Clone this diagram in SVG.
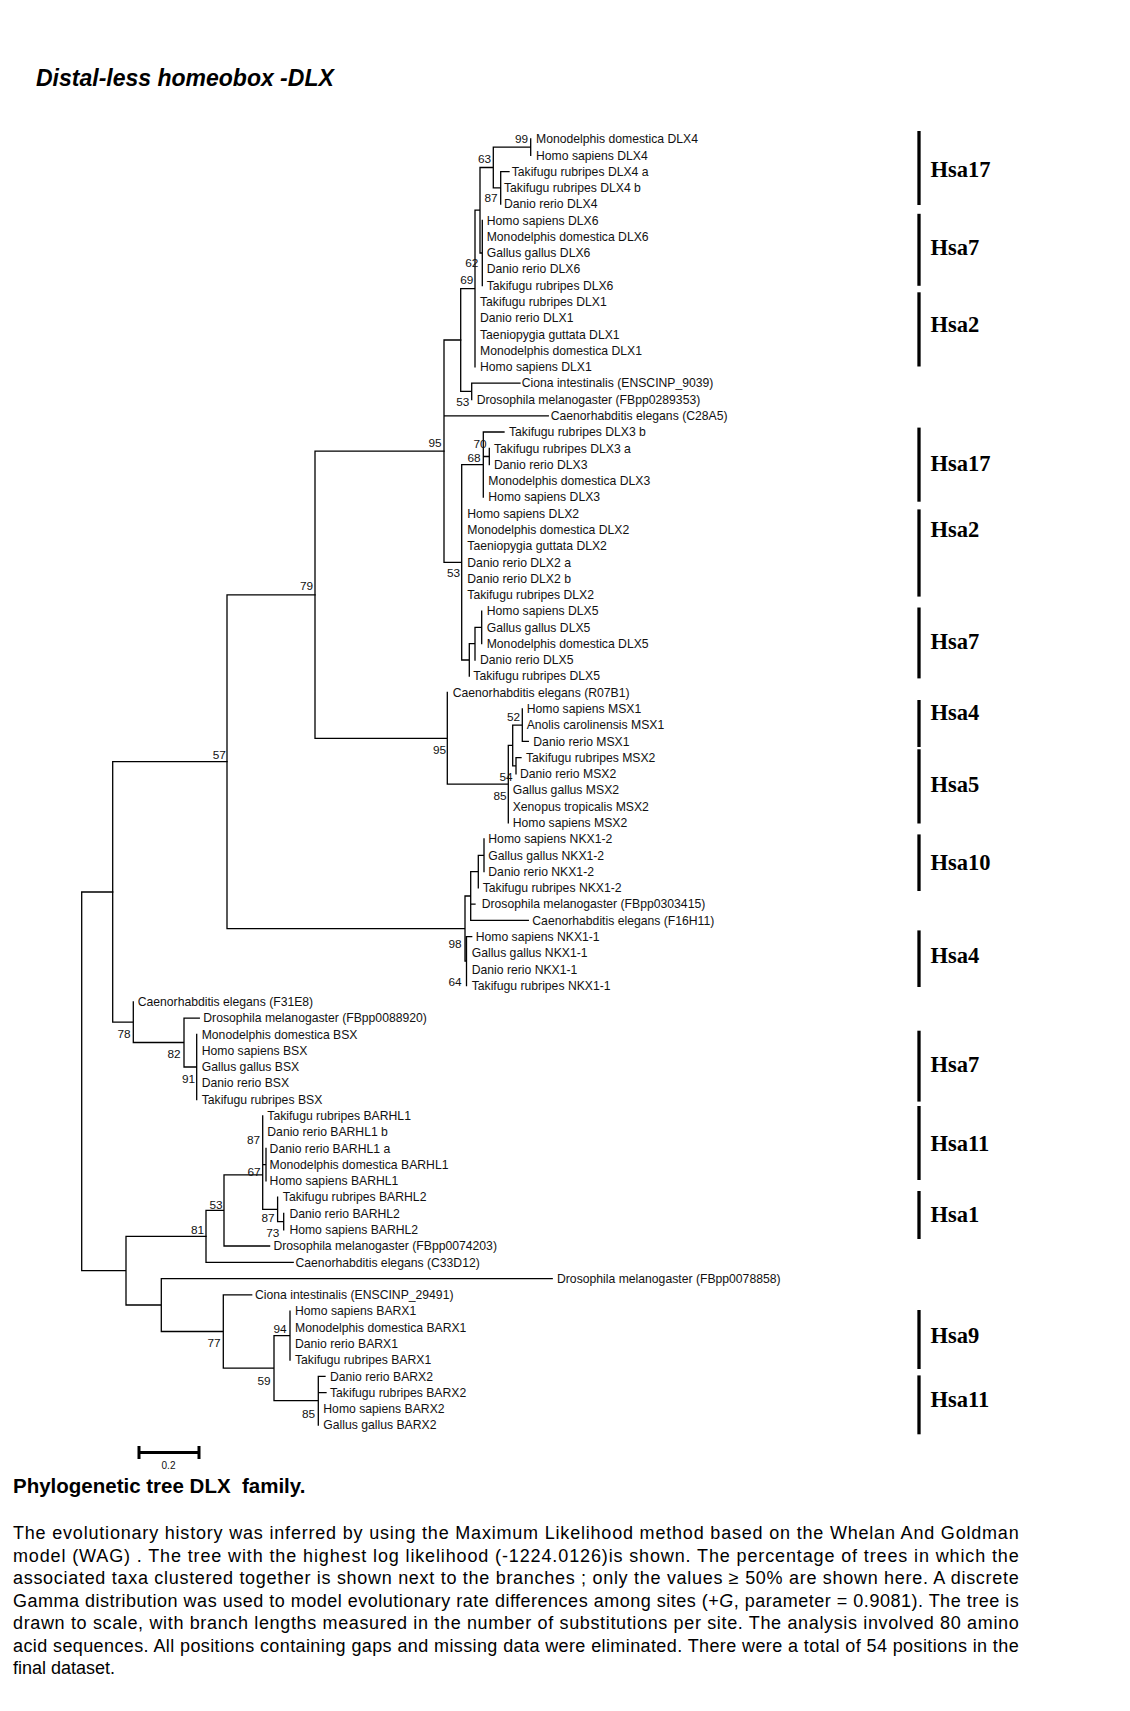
<svg xmlns="http://www.w3.org/2000/svg" width="1130" height="1711" viewBox="0 0 1130 1711">
<style>
text{font-family:"Liberation Sans",Arial,sans-serif;fill:#111}
.t{font-size:12.2px}
.b{font-size:11.8px;text-anchor:end}
.hsa{font-family:"Liberation Serif","Times New Roman",serif;font-weight:bold;font-size:22.5px;fill:#000}
.bar{stroke:#000;stroke-width:3.3}
.br{stroke:#000;stroke-width:1.3;fill:none;stroke-linecap:square}
.cap{font-size:18px;fill:#000}
</style>
<rect width="1130" height="1711" fill="#fff"/>
<text x="36" y="86" style="font-size:23px;font-weight:bold;font-style:italic;fill:#000">Distal-less homeobox -DLX</text>

<g id="connectors" class="br">
<path d="M530.7 139V155.3M500.7 171.6V204.1M493.3 147.1V187.8M482.3 220.4V285.5M480 167.5V253M475 210.2V366.9M471.7 383.2V399.5M460.7 288.6V391.3M493.3 147.1H530.7M493.3 187.8H500.7M500.7 171.6H509M480 167.5H493.3M480 253H482.3M475 210.2H480M471.7 383.2H520M460.7 288.6H475M460.7 391.3H471.7"/>
<path d="M489.3 448.3V464.6M483.3 432V497.2M481.7 611.1V643.7M475 627.4V660M469.3 643.7V676.2M461.7 464.6V660M444 340V562.3M483.3 456.5H489.3M483.3 432H504M475 627.4H481.7M469.3 643.7H475M461.7 464.6H483.3M461.7 660H469.3M444 340H460.7M444 415.8H548.3M444 562.3H461.7"/>
<path d="M522.3 708.8V741.4M516 757.6V773.9M512.7 725.1V765.8M508.3 745.4V822.8M447.3 692.5V784.1M315 451.2V738.3M522.3 741.4H528.3M516 757.6H521M512.7 725.1H522.3M512.7 765.8H516M508.3 745.4H512.7M447.3 784.1H508.3M315 451.2H444M315 738.3H447.3"/>
<path d="M484 839V871.6M478.3 855.3V887.9M470.7 871.6V920.4M466.5 936.7V985.6M465 896V961.1M227 594.8V928.6M478.3 855.3H484M470.7 871.6H478.3M470.7 904.2H475M470.7 920.4H528.3M466.5 936.7H471.7M465 896H470.7M465 961.1H466.5M227 594.8H315M227 928.6H465"/>
<path d="M196.7 1034.4V1099.5M184 1018.1V1067M133.3 1001.8V1042.5M112.7 761.7V1022.2M184 1018.1H199.3M184 1067H196.7M133.3 1042.5H184M112.7 761.7H227M112.7 1022.2H133.3"/>
<path d="M266 1148.4V1180.9M262.7 1115.8V1209.4M283.7 1213.5V1229.8M277.6 1197.2V1221.6M224 1174.8V1246M206 1210.4V1262.3M262.7 1164.6H266M277.6 1221.6H283.7M262.7 1209.4H277.6M224 1174.8H262.7M224 1246H269.6M206 1210.4H224M206 1262.3H293.2"/>
<path d="M290 1311.2V1360M318.3 1376.3V1425.1M274 1335.6V1400.7M223.3 1294.9V1368.2M161.3 1278.6V1331.5M126 1236.4V1305M81.7 892V1270.7M318.3 1376.3H325M318.3 1392.6H326M274 1335.6H290M274 1400.7H318.3M223.3 1294.9H251.7M223.3 1368.2H274M161.3 1278.6H552.2M161.3 1331.5H223.3M126 1236.4H206M126 1305H161.3M81.7 892H112.7M81.7 1270.7H126"/>
</g>

<g id="clade-dlx4-6-1" class="t">
<text x="536" y="143.2">Monodelphis domestica DLX4</text>
<text x="536" y="159.5">Homo sapiens DLX4</text>
<text x="511.7" y="175.8">Takifugu rubripes DLX4 a</text>
<text x="504" y="192">Takifugu rubripes DLX4 b</text>
<text x="504" y="208.3">Danio rerio DLX4</text>
<text x="486.7" y="224.6">Homo sapiens DLX6</text>
<text x="486.7" y="240.9">Monodelphis domestica DLX6</text>
<text x="486.7" y="257.2">Gallus gallus DLX6</text>
<text x="486.7" y="273.4">Danio rerio DLX6</text>
<text x="486.7" y="289.7">Takifugu rubripes DLX6</text>
<text x="480" y="306">Takifugu rubripes DLX1</text>
<text x="480" y="322.3">Danio rerio DLX1</text>
<text x="480" y="338.6">Taeniopygia guttata DLX1</text>
<text x="480" y="354.8">Monodelphis domestica DLX1</text>
<text x="480" y="371.1">Homo sapiens DLX1</text>
<text x="521.7" y="387.4">Ciona intestinalis (ENSCINP_9039)</text>
<text x="476.7" y="403.7">Drosophila melanogaster (FBpp0289353)</text>
<text x="550.7" y="420">Caenorhabditis elegans (C28A5)</text>
</g>
<g id="clade-dlx3-2-5" class="t">
<text x="509" y="436.2">Takifugu rubripes DLX3 b</text>
<text x="494" y="452.5">Takifugu rubripes DLX3 a</text>
<text x="494" y="468.8">Danio rerio DLX3</text>
<text x="488.3" y="485.1">Monodelphis domestica DLX3</text>
<text x="488.3" y="501.4">Homo sapiens DLX3</text>
<text x="467.3" y="517.6">Homo sapiens DLX2</text>
<text x="467.3" y="533.9">Monodelphis domestica DLX2</text>
<text x="467.3" y="550.2">Taeniopygia guttata DLX2</text>
<text x="467.3" y="566.5">Danio rerio DLX2 a</text>
<text x="467.3" y="582.8">Danio rerio DLX2 b</text>
<text x="467.3" y="599">Takifugu rubripes DLX2</text>
<text x="486.7" y="615.3">Homo sapiens DLX5</text>
<text x="486.7" y="631.6">Gallus gallus DLX5</text>
<text x="486.7" y="647.9">Monodelphis domestica DLX5</text>
<text x="480" y="664.2">Danio rerio DLX5</text>
<text x="473.3" y="680.4">Takifugu rubripes DLX5</text>
</g>
<g id="clade-msx" class="t">
<text x="452.7" y="696.7">Caenorhabditis elegans (R07B1)</text>
<text x="526.7" y="713">Homo sapiens MSX1</text>
<text x="526.7" y="729.3">Anolis carolinensis MSX1</text>
<text x="533.3" y="745.6">Danio rerio MSX1</text>
<text x="526" y="761.8">Takifugu rubripes MSX2</text>
<text x="520" y="778.1">Danio rerio MSX2</text>
<text x="512.7" y="794.4">Gallus gallus MSX2</text>
<text x="512.7" y="810.7">Xenopus tropicalis MSX2</text>
<text x="512.7" y="827">Homo sapiens MSX2</text>
</g>
<g id="clade-nkx" class="t">
<text x="488.3" y="843.2">Homo sapiens NKX1-2</text>
<text x="488.3" y="859.5">Gallus gallus NKX1-2</text>
<text x="488.3" y="875.8">Danio rerio NKX1-2</text>
<text x="482.7" y="892.1">Takifugu rubripes NKX1-2</text>
<text x="481.7" y="908.4">Drosophila melanogaster (FBpp0303415)</text>
<text x="532.3" y="924.6">Caenorhabditis elegans (F16H11)</text>
<text x="475.7" y="940.9">Homo sapiens NKX1-1</text>
<text x="471.7" y="957.2">Gallus gallus NKX1-1</text>
<text x="471.7" y="973.5">Danio rerio NKX1-1</text>
<text x="471.7" y="989.8">Takifugu rubripes NKX1-1</text>
</g>
<g id="clade-bsx" class="t">
<text x="137.7" y="1006">Caenorhabditis elegans (F31E8)</text>
<text x="203.3" y="1022.3">Drosophila melanogaster (FBpp0088920)</text>
<text x="201.7" y="1038.6">Monodelphis domestica BSX</text>
<text x="201.7" y="1054.9">Homo sapiens BSX</text>
<text x="201.7" y="1071.2">Gallus gallus BSX</text>
<text x="201.7" y="1087.4">Danio rerio BSX</text>
<text x="201.7" y="1103.7">Takifugu rubripes BSX</text>
</g>
<g id="clade-barhl" class="t">
<text x="267.3" y="1120">Takifugu rubripes BARHL1</text>
<text x="267.3" y="1136.3">Danio rerio BARHL1 b</text>
<text x="269.6" y="1152.6">Danio rerio BARHL1 a</text>
<text x="269.6" y="1168.8">Monodelphis domestica BARHL1</text>
<text x="269.6" y="1185.1">Homo sapiens BARHL1</text>
<text x="282.8" y="1201.4">Takifugu rubripes BARHL2</text>
<text x="289.4" y="1217.7">Danio rerio BARHL2</text>
<text x="289.4" y="1234">Homo sapiens BARHL2</text>
<text x="273.4" y="1250.2">Drosophila melanogaster (FBpp0074203)</text>
<text x="295.5" y="1266.5">Caenorhabditis elegans (C33D12)</text>
</g>
<g id="clade-barx" class="t">
<text x="557" y="1282.8">Drosophila melanogaster (FBpp0078858)</text>
<text x="255" y="1299.1">Ciona intestinalis (ENSCINP_29491)</text>
<text x="295" y="1315.4">Homo sapiens BARX1</text>
<text x="295" y="1331.6">Monodelphis domestica BARX1</text>
<text x="295" y="1347.9">Danio rerio BARX1</text>
<text x="295" y="1364.2">Takifugu rubripes BARX1</text>
<text x="330" y="1380.5">Danio rerio BARX2</text>
<text x="330" y="1396.8">Takifugu rubripes BARX2</text>
<text x="323.3" y="1413">Homo sapiens BARX2</text>
<text x="323.3" y="1429.3">Gallus gallus BARX2</text>
</g>

<g id="bootstrap" class="b">
<text x="528" y="143">99</text>
<text x="491" y="163">63</text>
<text x="497.7" y="202.3">87</text>
<text x="478.3" y="267.3">62</text>
<text x="473.3" y="284">69</text>
<text x="469.3" y="405.7">53</text>
<text x="441.7" y="447.3">95</text>
<text x="486.7" y="448">70</text>
<text x="480.7" y="461.5">68</text>
<text x="460" y="577.3">53</text>
<text x="313" y="589.7">79</text>
<text x="225.8" y="758.8">57</text>
<text x="446" y="754">95</text>
<text x="520" y="720.7">52</text>
<text x="512.7" y="781.3">54</text>
<text x="506.7" y="800">85</text>
<text x="461.7" y="948.3">98</text>
<text x="461.7" y="985.7">64</text>
<text x="130.7" y="1038.3">78</text>
<text x="180.7" y="1058">82</text>
<text x="195" y="1083">91</text>
<text x="260" y="1144">87</text>
<text x="260.5" y="1175.7">67</text>
<text x="222.7" y="1209">53</text>
<text x="204" y="1234">81</text>
<text x="274.6" y="1222">87</text>
<text x="279.3" y="1236.5">73</text>
<text x="220.7" y="1347.3">77</text>
<text x="286.7" y="1333.3">94</text>
<text x="270.7" y="1384.7">59</text>
<text x="315" y="1418">85</text>
</g>

<g id="chromosomes">
<g id="chr-1"><line class="bar" x1="919" y1="131" x2="919" y2="205"/><text class="hsa" x="930.4" y="176.5">Hsa17</text></g>
<g id="chr-2"><line class="bar" x1="919" y1="213.8" x2="919" y2="285.8"/><text class="hsa" x="930.4" y="255">Hsa7</text></g>
<g id="chr-3"><line class="bar" x1="919" y1="292.3" x2="919" y2="366.5"/><text class="hsa" x="930.4" y="331.5">Hsa2</text></g>
<g id="chr-4"><line class="bar" x1="919" y1="427.6" x2="919" y2="501.7"/><text class="hsa" x="930.4" y="471">Hsa17</text></g>
<g id="chr-5"><line class="bar" x1="919" y1="509.4" x2="919" y2="596.6"/><text class="hsa" x="930.4" y="536.5">Hsa2</text></g>
<g id="chr-6"><line class="bar" x1="919" y1="607.5" x2="919" y2="678.4"/><text class="hsa" x="930.4" y="648.8">Hsa7</text></g>
<g id="chr-7"><line class="bar" x1="919" y1="700" x2="919" y2="747"/><text class="hsa" x="930.4" y="719.7">Hsa4</text></g>
<g id="chr-8"><line class="bar" x1="919" y1="749.3" x2="919" y2="823.5"/><text class="hsa" x="930.4" y="791.7">Hsa5</text></g>
<g id="chr-9"><line class="bar" x1="919" y1="834.4" x2="919" y2="891"/><text class="hsa" x="930.4" y="870.2">Hsa10</text></g>
<g id="chr-10"><line class="bar" x1="919" y1="930.4" x2="919" y2="987"/><text class="hsa" x="930.4" y="963">Hsa4</text></g>
<g id="chr-11"><line class="bar" x1="919" y1="1030.7" x2="919" y2="1101.6"/><text class="hsa" x="930.4" y="1072">Hsa7</text></g>
<g id="chr-12"><line class="bar" x1="919" y1="1106" x2="919" y2="1180"/><text class="hsa" x="930.4" y="1150.5">Hsa11</text></g>
<g id="chr-13"><line class="bar" x1="919" y1="1191" x2="919" y2="1239"/><text class="hsa" x="930.4" y="1221.5">Hsa1</text></g>
<g id="chr-14"><line class="bar" x1="919" y1="1310" x2="919" y2="1369"/><text class="hsa" x="930.4" y="1342.5">Hsa9</text></g>
<g id="chr-15"><line class="bar" x1="919" y1="1375.4" x2="919" y2="1434.3"/><text class="hsa" x="930.4" y="1407">Hsa11</text></g>
</g>

<g id="scale">
<path d="M139 1452.5H199M139 1446V1459M199 1446V1459" stroke="#000" stroke-width="3" fill="none"/>
<text x="168.5" y="1469" style="font-size:10px;text-anchor:middle">0.2</text>
</g>

<g id="caption">
<text x="13" y="1493" style="font-size:20.5px;font-weight:bold;fill:#000">Phylogenetic tree DLX&#160; family.</text>
<text class="cap" x="13" y="1539" textLength="1005.7" lengthAdjust="spacing">The evolutionary history was inferred by using the Maximum Likelihood method based on the Whelan And Goldman</text>
<text class="cap" x="13" y="1561.5" textLength="1005.7" lengthAdjust="spacing">model (WAG) . The tree with the highest log likelihood (-1224.0126)is shown. The percentage of trees in which the</text>
<text class="cap" x="13" y="1584" textLength="1005.7" lengthAdjust="spacing">associated taxa clustered together is shown next to the branches ; only the values ≥ 50% are shown here. A discrete</text>
<text class="cap" x="13" y="1606.5" textLength="1005.7" lengthAdjust="spacing">Gamma distribution was used to model evolutionary rate differences among sites (+<tspan font-style="italic">G</tspan>, parameter = 0.9081). The tree is</text>
<text class="cap" x="13" y="1629" textLength="1005.7" lengthAdjust="spacing">drawn to scale, with branch lengths measured in the number of substitutions per site. The analysis involved 80 amino</text>
<text class="cap" x="13" y="1651.5" textLength="1005.7" lengthAdjust="spacing">acid sequences. All positions containing gaps and missing data were eliminated. There were a total of 54 positions in the</text>
<text class="cap" x="13" y="1674">final dataset.</text>
</g>
</svg>
